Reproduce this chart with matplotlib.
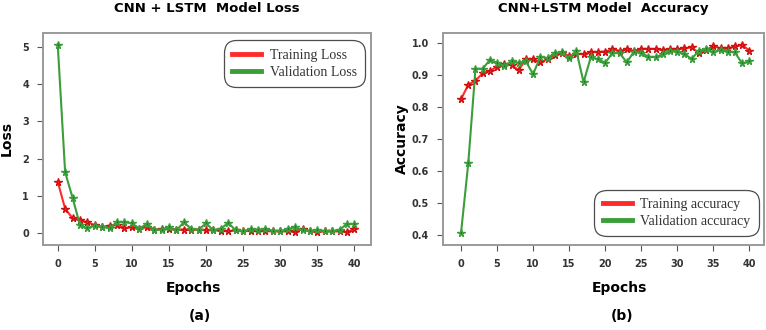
import numpy as np
import matplotlib.pyplot as plt
from matplotlib.lines import Line2D

# epochs 0..40
epochs = list(range(41))

train_loss = [1.38, 0.65, 0.40, 0.34, 0.29, 0.21, 0.16, 0.20, 0.22, 0.13,
              0.15, 0.12, 0.15, 0.09, 0.11, 0.12, 0.09, 0.09, 0.09, 0.09,
              0.07, 0.07, 0.06, 0.04, 0.07, 0.04, 0.06, 0.04, 0.05, 0.04,
              0.04, 0.04, 0.03, 0.11, 0.04, 0.03, 0.04, 0.04, 0.04, 0.02,
              0.11]
val_loss = [5.07, 1.63, 0.95, 0.21, 0.13, 0.20, 0.16, 0.13, 0.29, 0.29,
            0.26, 0.12, 0.24, 0.09, 0.09, 0.15, 0.07, 0.29, 0.11, 0.09,
            0.26, 0.07, 0.12, 0.27, 0.07, 0.04, 0.11, 0.09, 0.11, 0.06,
            0.04, 0.11, 0.15, 0.07, 0.06, 0.07, 0.04, 0.04, 0.09, 0.24,
            0.24]

train_acc = [0.825, 0.870, 0.883, 0.906, 0.913, 0.927, 0.935, 0.932, 0.916, 0.950,
             0.950, 0.940, 0.950, 0.963, 0.969, 0.960, 0.966, 0.966, 0.972, 0.972,
             0.974, 0.981, 0.976, 0.981, 0.976, 0.982, 0.982, 0.982, 0.979, 0.981,
             0.981, 0.984, 0.987, 0.969, 0.979, 0.991, 0.984, 0.984, 0.990, 0.995,
             0.977]
val_acc = [0.407, 0.624, 0.920, 0.920, 0.948, 0.939, 0.929, 0.943, 0.939, 0.943,
           0.903, 0.958, 0.953, 0.969, 0.972, 0.953, 0.976, 0.878, 0.956, 0.950,
           0.939, 0.969, 0.969, 0.940, 0.974, 0.969, 0.958, 0.956, 0.966, 0.976,
           0.974, 0.966, 0.951, 0.977, 0.981, 0.972, 0.979, 0.974, 0.971, 0.937,
           0.943]

RED = '#ff2a2a'
GREEN = '#3a9e3a'
DKGREEN = '#1f6b1f'

fig = plt.figure(figsize=(7.66, 3.3), dpi=100)
ax1 = fig.add_axes([0.056, 0.258, 0.428, 0.642])
ax2 = fig.add_axes([0.578, 0.258, 0.420, 0.642])


def style(ax):
    for s in ax.spines.values():
        s.set_color('#9a9a9a')
        s.set_linewidth(1.4)
    ax.tick_params(direction='out', length=4, width=0.8, color='#555555',
                   labelsize=7, labelcolor='#333333', pad=6)
    for lab in ax.get_xticklabels() + ax.get_yticklabels():
        lab.set_fontweight('bold')
    ax.set_xticks(range(0, 41, 5))


def legend(ax, labels, loc, anchor):
    handles = [Line2D([0], [0], color=RED, lw=3.5),
               Line2D([0], [0], color=GREEN, lw=3.5)]
    leg = ax.legend(handles, labels, loc=loc, bbox_to_anchor=anchor,
                    prop={'family': 'Liberation Serif', 'size': 10},
                    frameon=True, fancybox=True, handlelength=2.1,
                    labelspacing=0.3, borderpad=0.4, handletextpad=0.6)
    leg.get_frame().set_edgecolor('#222222')
    leg.get_frame().set_linewidth(0.9)
    leg.get_frame().set_boxstyle('round,pad=0.2,rounding_size=0.9')
    for t in leg.get_texts():
        t.set_color('#333333')


# (a) loss
ax1.plot(epochs, train_loss, color=RED, lw=1.5, marker='*', ms=5.5,
         mfc=RED, mec='#d01010')
ax1.plot(epochs, val_loss, color=GREEN, lw=1.5, marker='*', ms=5.5,
         mfc=DKGREEN, mec=GREEN)
ax1.set_xlim(-2.0, 42.2)
ax1.set_ylim(-0.32, 5.38)
ax1.set_yticks([0, 1, 2, 3, 4, 5])
style(ax1)
ax1.set_ylabel('Loss', fontsize=10, fontweight='bold', labelpad=6)
ax1.set_xlabel('Epochs', fontsize=10, fontweight='bold')
ax1.xaxis.set_label_coords(0.46, -0.17)
ax1.set_title('CNN + LSTM  Model Loss', fontsize=9.5, fontweight='bold', pad=15)
legend(ax1, ['Training Loss', 'Validation Loss'], 'upper right', (0.995, 0.985))

# (b) accuracy
ax2.plot(epochs, train_acc, color=RED, lw=1.5, marker='*', ms=5.5,
         mfc=RED, mec='#d01010')
ax2.plot(epochs, val_acc, color=GREEN, lw=1.5, marker='*', ms=5.5,
         mfc=DKGREEN, mec=GREEN)
ax2.set_xlim(-2.54, 42.1)
ax2.set_ylim(0.369, 1.032)
ax2.set_yticks([0.4, 0.5, 0.6, 0.7, 0.8, 0.9, 1.0])
style(ax2)
ax2.set_ylabel('Accuracy', fontsize=10, fontweight='bold', labelpad=2)
ax2.set_xlabel('Epochs', fontsize=10, fontweight='bold')
ax2.xaxis.set_label_coords(0.55, -0.17)
ax2.set_title('CNN+LSTM Model  Accuracy', fontsize=9.5, fontweight='bold', pad=15)
legend(ax2, ['Training accuracy', 'Validation accuracy'], 'lower right', (0.995, 0.02))

fig.text(0.261, 0.02, '(a)', ha='center', va='bottom', fontsize=10, fontweight='bold')
fig.text(0.812, 0.02, '(b)', ha='center', va='bottom', fontsize=10, fontweight='bold')

fig.savefig('out.png', dpi=100, facecolor='white')
